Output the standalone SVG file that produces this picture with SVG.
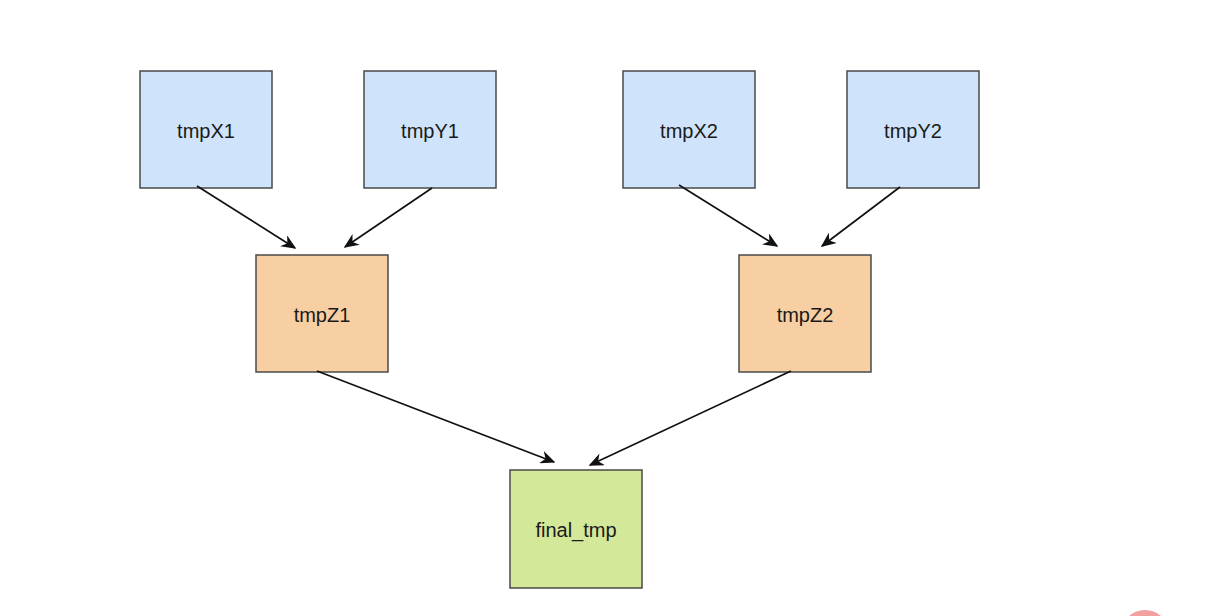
<svg xmlns="http://www.w3.org/2000/svg" width="1223" height="616" viewBox="0 0 1223 616">
<defs>
<style>
.box{stroke:#4a4a4a;stroke-width:1.5}
.blue{fill:#cfe4fb}
.orange{fill:#f8cfa3}
.green{fill:#d4e89a}
.lbl{font-family:"Liberation Sans",Arial,sans-serif;font-size:20px;fill:#1a1a1a;text-anchor:middle;dominant-baseline:central}
.edge{stroke:#111;stroke-width:1.7;fill:none;marker-end:url(#arr)}
</style>
<marker id="arr" viewBox="0 0 10 10" refX="9" refY="5" markerWidth="15" markerHeight="13" markerUnits="userSpaceOnUse" orient="auto" preserveAspectRatio="none">
<path d="M0,0 L10,5 L0,10 L3,5 Z" fill="#111"/>
</marker>
</defs>
<rect width="1223" height="616" fill="#ffffff"/>
<g id="tmpX1"><rect class="box blue" x="140" y="71" width="132" height="117"/><text class="lbl" x="206" y="131">tmpX1</text></g>
<g id="tmpY1"><rect class="box blue" x="364" y="71" width="132" height="117"/><text class="lbl" x="430" y="131">tmpY1</text></g>
<g id="tmpX2"><rect class="box blue" x="623" y="71" width="132" height="117"/><text class="lbl" x="689" y="131">tmpX2</text></g>
<g id="tmpY2"><rect class="box blue" x="847" y="71" width="132" height="117"/><text class="lbl" x="913" y="131">tmpY2</text></g>
<g id="tmpZ1"><rect class="box orange" x="256" y="255" width="132" height="117"/><text class="lbl" x="322" y="315">tmpZ1</text></g>
<g id="tmpZ2"><rect class="box orange" x="739" y="255" width="132" height="117"/><text class="lbl" x="805" y="315">tmpZ2</text></g>
<g id="final_tmp"><rect class="box green" x="510" y="470" width="132" height="118"/><text class="lbl" x="576" y="530">final_tmp</text></g>
<g id="connectors">
<line class="edge" x1="197" y1="186" x2="295" y2="248"/>
<line class="edge" x1="432" y1="188" x2="345" y2="247"/>
<line class="edge" x1="679" y1="185" x2="777" y2="246"/>
<line class="edge" x1="900" y1="187" x2="822" y2="246"/>
<line class="edge" x1="317" y1="371" x2="554" y2="462"/>
<line class="edge" x1="791" y1="371" x2="590" y2="465"/>
</g>
<circle cx="1145" cy="634" r="24" fill="#f2a0a0"/>
</svg>
